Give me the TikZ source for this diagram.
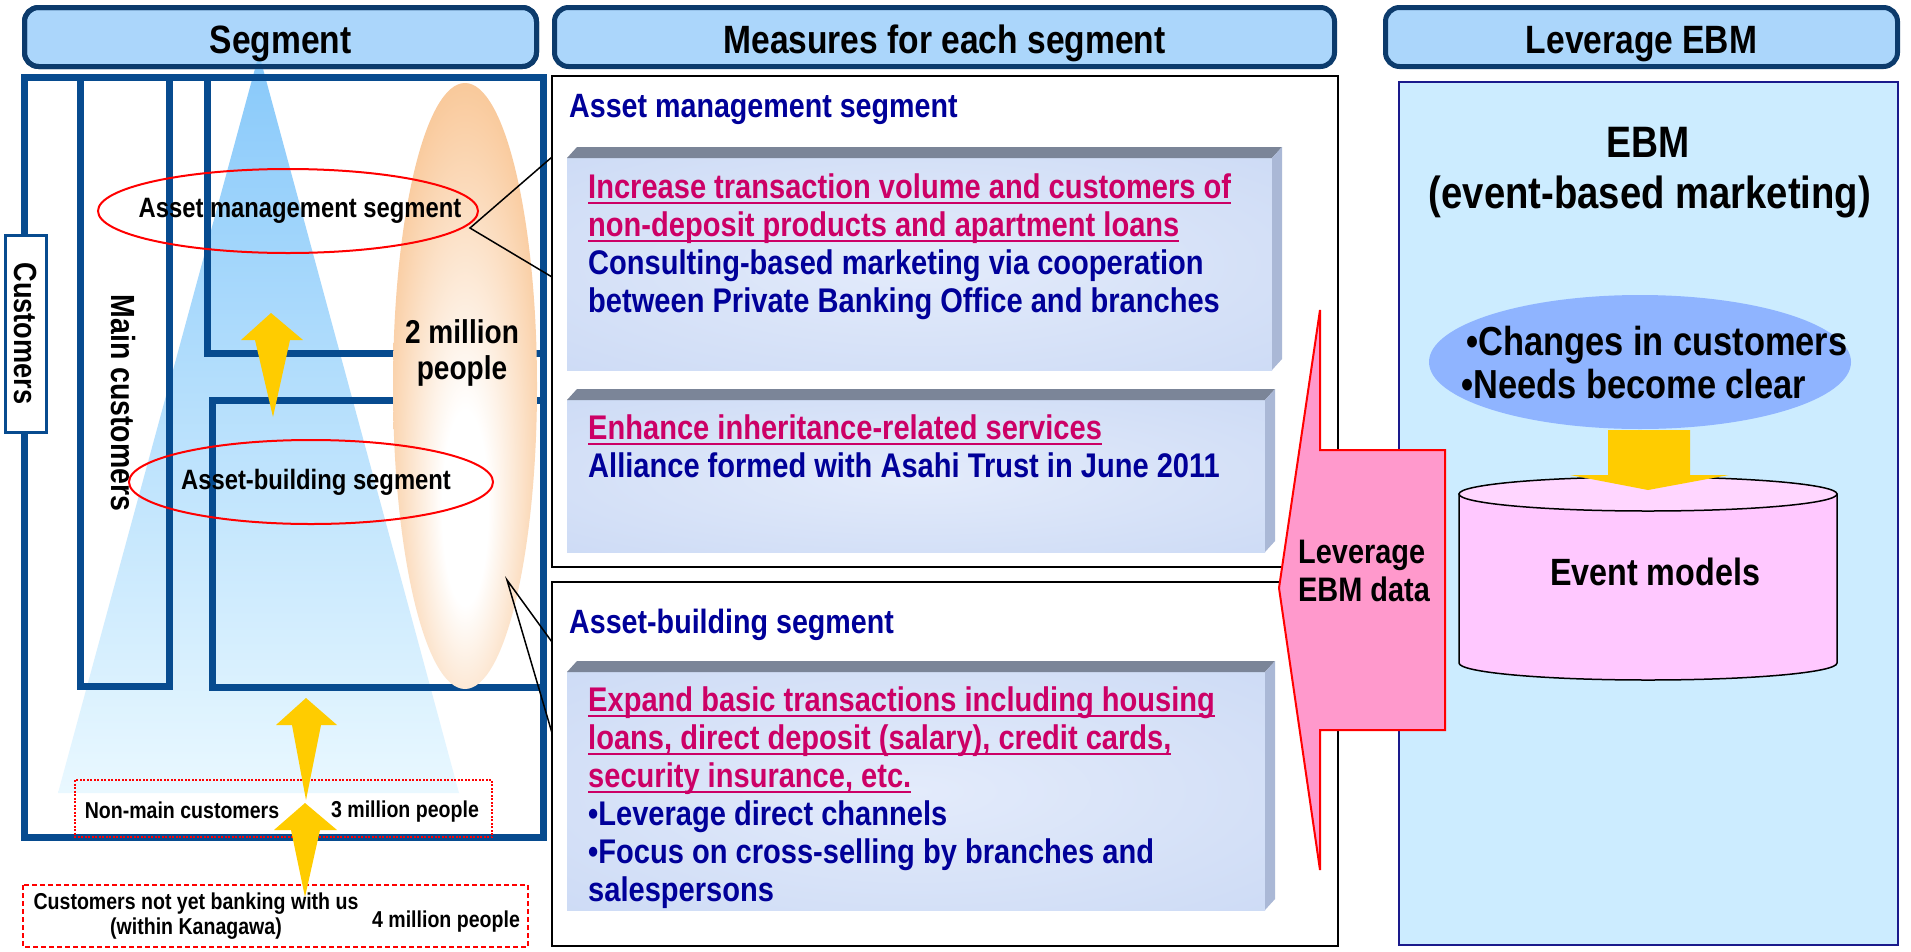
\documentclass[tikz,border=0pt]{standalone}
\usepackage{xcolor}
\usepackage{fontspec}
\setmainfont{Liberation Sans}[FakeStretch=0.85]
\usepackage{tikz}
\usetikzlibrary{positioning, calc}

\definecolor{hdrfill}{HTML}{ABD6FB}
\definecolor{hdrline}{HTML}{0C3B6C}
\definecolor{segblue}{HTML}{074B8F}
\definecolor{navytext}{HTML}{000099}
\definecolor{measurered}{HTML}{CC0066}
\definecolor{ebmfill}{HTML}{CCECFF}
\definecolor{ebmline}{HTML}{1A1A8C}
\definecolor{needsfill}{HTML}{8FB4FF}
\definecolor{arrowyellow}{HTML}{FFCC00}
\definecolor{datapink}{HTML}{FF99CC}
\definecolor{modelpink}{HTML}{FFC8FF}
\definecolor{modeltop}{HTML}{FFD6FF}
\definecolor{peach}{HTML}{F8BF88}
\definecolor{skytop}{HTML}{88C9FA}
\definecolor{skybottom}{HTML}{E9F8FF}
\definecolor{facelight}{HTML}{E3EBFB}
\definecolor{faceedge}{HTML}{C5D5F3}
\definecolor{bevelgray}{HTML}{7B8598}
\definecolor{sidegray}{HTML}{AAB8D6}

\pgfdeclareradialshading{boxglow}{\pgfpoint{0bp}{0bp}}{%
    color(0bp)=(facelight); color(50bp)=(faceedge)}
\pgfdeclareradialshading{peachglow}{\pgfpoint{0bp}{-12bp}}{%
    color(0bp)=(white); color(8bp)=(white); color(34bp)=(peach); color(50bp)=(peach)}

\newcommand{\fsz}[2]{\fontsize{#1}{#2}\selectfont\bfseries}

% underline sitting just under the baseline
\newcommand{\measureul}[1]{%
    \setbox0=\hbox{#1}\rlap{\rule[-5pt]{\wd0}{2pt}}\box0}

% front face, top bevel and right side of a measure box
\newcommand{\measurebox}[4]{%
    \shade[shading=boxglow] (#1,#2) rectangle (#3,#4);
    \fill[bevelgray] (#1,#2) -- (#1+10,#2-11) -- (#3+10,#2-11) -- (#3,#2) -- cycle;
    \fill[sidegray] (#3,#2) -- (#3+10,#2-11) -- (#3+10,#4-11) -- (#3,#4) -- cycle;
}

\begin{document}
\begin{tikzpicture}[
        x=1pt, y=-1pt,
        header/.style={
            draw=hdrline,
            line width=5pt,
            fill=hdrfill,
            rounded corners=14pt,
            minimum height=59pt
        },
        hdrtext/.style={font=\fsz{39.5}{44}, anchor=base},
        segbox/.style={draw=segblue, line width=7pt},
        redring/.style={draw=red, line width=2pt},
        ringtext/.style={font=\fsz{28}{32}, anchor=base},
        popnote/.style={font=\fsz{23}{24.5}, inner sep=0pt},
        upflow/.style={fill=arrowyellow},
        measureframe/.style={
            draw=black,
            line width=2pt,
            minimum width=786pt,
            outer sep=0pt
        },
        sechead/.style={
            font=\fsz{33.7}{38},
            text=navytext,
            anchor=base west,
            inner sep=0pt
        },
        measuretext/.style={
            font=\fsz{34.2}{38},
            text=navytext,
            align=left,
            anchor=north west,
            inner sep=0pt
        },
        pointer/.style={draw=black, line width=1.5pt},
        ebmtext/.style={font=\fsz{44}{48}, anchor=base}
    ]

    \path[use as bounding box, fill=white] (0,0) rectangle (1911,951);

    % Column headers
    \node[header, minimum width=512pt] (seghdr) at (280.5,37) {};
    \node[header, minimum width=780pt] (meashdr) at (944.5,37) {};
    \node[header, minimum width=512pt] (ebmhdr) at (1641.5,37) {};

    % Customer pyramid, its tip runs up into the header
    \shade[top color=skytop, bottom color=skybottom]
        (259,54) -- (459,793) -- (58,793) -- cycle;
    \node[header, fill=none, minimum width=512pt] (seghdrline) at (seghdr.center) {};

    \node[hdrtext] (segtitle) at ($(seghdr.center)+(0,16)$) {Segment};
    \node[hdrtext] (meastitle) at ($(meashdr.center)+(0,16)$) {Measures for each segment};
    \node[hdrtext] (ebmtitle) at ($(ebmhdr.center)+(0,16)$) {Leverage EBM};

    % Segment boxes
    \draw[segbox] (24,77) rectangle (543,837);
    \draw[segbox] (80,77) rectangle (169,686);
    \draw[segbox] (207,77) rectangle (543,353);
    \draw[segbox] (212,400) rectangle (543,687);

    % Population of the two segments
    \shade[shading=peachglow] (465,386) ellipse [x radius=72, y radius=303];
    \node[font=\fsz{33}{36}, align=center, anchor=north, inner sep=0pt]
        (twomillion) at (462,319) {2 million\\people};

    \node[draw=segblue, line width=3pt, fill=white, rotate=-90,
          minimum width=197pt, minimum height=41pt, inner sep=0pt,
          font=\fsz{32}{36}] (custtag) at (25.5,333.5) {Customers};
    \node[font=\fsz{33.5}{38}, rotate=-90] (maincust) at (123,403) {Main customers};

    \draw[redring] (288,211) ellipse [x radius=190, y radius=42];
    \draw[redring] (311,482) ellipse [x radius=182, y radius=42];
    \node[ringtext] (amlabel) at (300,217) {Asset management segment};
    \node[ringtext] (ablabel) at (316,489) {Asset-building segment};

    % Customers outside the main ones
    \draw[red, line width=2pt, dash pattern=on 2pt off 1.5pt] (75,780) rectangle (492,837);
    \node[popnote, anchor=base] (nonmain) at (182,818) {Non-main customers};
    \node[popnote, anchor=base] (threemil) at (405,817) {3 million people};
    \draw[red, line width=2.5pt, dash pattern=on 5pt off 3pt] (23,885) rectangle (528,947);
    \node[popnote, align=center, anchor=north] (notyet) at (196,893)
        {Customers not yet banking with us\\(within Kanagawa)};
    \node[popnote, anchor=base] (fourmil) at (446,927) {4 million people};

    % Movement between the segments
    \fill[upflow] (271,313) -- (303,340) -- (290,340) -- (273,417)
        -- (255,340) -- (241,340) -- cycle;
    \fill[upflow] (306,698) -- (337,725) -- (321,725) -- (306,800)
        -- (292,725) -- (276,725) -- cycle;
    \fill[upflow] (305,803) -- (337,830) -- (320,830) -- (305,897)
        -- (291,830) -- (274,830) -- cycle;

    % Measures for each segment
    \node[measureframe, minimum height=491pt] (amframe) at (945,321.5) {};
    \node[measureframe, minimum height=364pt] (abframe) at (945,764) {};

    \coordinate (amtip) at (470,228);
    \coordinate (abtip) at (507,580);
    \draw[pointer] ($(amframe.north west)+(0,81)$) -- (amtip)
        -- ($(amframe.north west)+(0,201)$);
    \draw[pointer] ($(abframe.north west)+(0,60)$) -- (abtip)
        -- ($(abframe.north west)+(0,151)$);

    \node[sechead] (amhead) at (569,117) {Asset management segment};
    \node[sechead] (abhead) at (569,633) {Asset-building segment};

    \measurebox{567}{158}{1272}{370}
    \measurebox{567}{400}{1265}{552}
    \measurebox{567}{672}{1265}{910}

    \node[measuretext] (amtext) at (588,174) {
        \textcolor{measurered}{\measureul{Increase transaction volume and customers of}}\\
        \textcolor{measurered}{\measureul{non-deposit products and apartment loans}}\\
        Consulting-based marketing via cooperation\\
        between Private Banking Office and branches
    };
    \node[measuretext] (inherit) at (588,415) {
        \textcolor{measurered}{\measureul{Enhance inheritance-related services}}\\
        Alliance formed with Asahi Trust in June 2011
    };
    \node[measuretext] (abtext) at (588,687) {
        \textcolor{measurered}{\measureul{Expand basic transactions including housing}}\\
        \textcolor{measurered}{\measureul{loans, direct deposit (salary), credit cards,}}\\
        \textcolor{measurered}{\measureul{security insurance, etc.}}\\
        •Leverage direct channels\\
        •Focus on cross-selling by branches and\\
        salespersons
    };

    % Leverage EBM
    \node[draw=ebmline, line width=2pt, fill=ebmfill, outer sep=0pt,
          minimum width=499pt, minimum height=863pt] (ebmpanel) at (1648.5,513.5) {};
    \node[ebmtext] (ebmname) at (1648,157) {EBM};
    \node[ebmtext, font=\fsz{45}{48}] (ebmlong) at (1650,208) {(event-based marketing)};

    \fill[needsfill] (1640,362) ellipse [x radius=211, y radius=67];
    \node[font=\fsz{40.5}{43}, align=left, anchor=north west, inner sep=0pt]
        (needs) at (1461,326) {\hspace{5pt}•Changes in customers\\•Needs become clear};

    % Event model store
    \filldraw[fill=modelpink, line width=1.5pt]
        (1459,494) -- (1459,663)
        arc[start angle=180, end angle=0, x radius=189, y radius=17]
        -- (1837,494) -- cycle;
    \filldraw[fill=modeltop, line width=1.5pt]
        (1648,494) ellipse [x radius=189, y radius=17];
    \node[font=\fsz{38}{42}, anchor=base] (eventmodels) at (1655,585) {Event models};
    \fill[arrowyellow] (1608,430) -- (1690,430) -- (1690,475) -- (1729,475)
        -- (1648,490) -- (1570,475) -- (1608,475) -- cycle;

    % EBM data fed back to the measures
    \filldraw[fill=datapink, draw=red, line width=2pt]
        (1320,310) -- (1320,450) -- (1445,450) -- (1445,730)
        -- (1320,730) -- (1320,870) -- (1279,588) -- cycle;
    \node[font=\fsz{34}{38}, align=left, anchor=north west, inner sep=0pt]
        (ebmdata) at (1298,540) {Leverage\\EBM data};

\end{tikzpicture}
\end{document}
